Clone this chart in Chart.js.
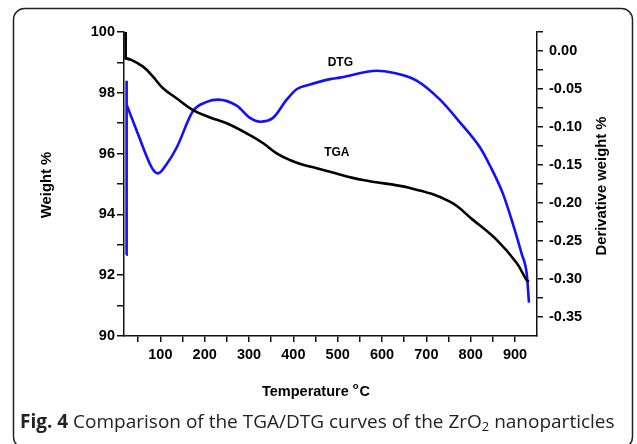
<!DOCTYPE html>
<html>
<head>
<meta charset="utf-8">
<script src="https://cdn.jsdelivr.net/npm/chart.js@4.4.1/dist/chart.umd.min.js"></script>
<style>
  body { margin: 0; background: #fff; }
  canvas { display: block; }
</style>
</head>
<body>
<canvas id="tgaChart" width="637" height="444"></canvas>
<script>
// TGA curve: temperature (°C) -> weight %
const tgaTemp = [21.5, 21.8, 31.6, 60.9, 83.4, 106, 136.3, 173.7, 212, 249.7, 302, 332, 362.4, 392, 421.7, 452.6, 482.6, 557, 663, 753, 805, 858.6, 903.7, 926, 931.4];
const tgaWeight = [100, 99.13, 99.10, 98.86, 98.53, 98.15, 97.82, 97.43, 97.19, 97.0, 96.61, 96.34, 96.01, 95.79, 95.63, 95.52, 95.40, 95.13, 94.87, 94.42, 93.82, 93.16, 92.40, 91.84, 91.79];

// DTG curve: temperature (°C) -> derivative weight %
const dtgTemp = [23.3, 23.6, 24.2, 46.7, 76.7, 86, 94.7, 114, 136.9, 173.7, 204.6, 230, 272.2, 302.2, 324.8, 354, 385, 408, 437.5, 482.6, 505, 588, 624.7, 678, 730.7, 775.8, 821, 843.5, 872.8, 895.4, 915, 926.3, 931.4];
const dtgValue = [-0.268, -0.039, -0.071, -0.105, -0.149, -0.158, -0.161, -0.149, -0.127, -0.079, -0.067, -0.064, -0.072, -0.088, -0.093, -0.088, -0.064, -0.050, -0.044, -0.037, -0.035, -0.026, -0.0286, -0.039, -0.064, -0.094, -0.127, -0.151, -0.188, -0.228, -0.267, -0.293, -0.331];

// tick values (major ones get labels)
const xTickValues = [50, 100, 150, 200, 250, 300, 350, 400, 450, 500, 550, 600, 650, 700, 750, 800, 850, 900];
const weightTickValues = [90, 91, 92, 93, 94, 95, 96, 97, 98, 99, 100];
const derivTickValues = [-0.35, -0.325, -0.3, -0.275, -0.25, -0.225, -0.2, -0.175, -0.15, -0.125, -0.1, -0.075, -0.05, -0.025, 0, 0.025];

const FAMILY = '"Liberation Sans", Arial, sans-serif';
const tickFont = { family: FAMILY, size: 14.5, weight: 'bold' };
const AXIS = '#111';

const toPoints = (xs, ys) => xs.map((t, i) => ({ x: t, y: ys[i] }));

// frame, axis titles, curve labels and the caption
const decorPlugin = {
    id: 'decor',
    beforeDraw(chart) {
        const c = chart.ctx;
        c.save();
        c.fillStyle = '#fff';
        c.fillRect(0, 0, chart.width, chart.height);
        // rounded box round the figure
        const x0 = 13.5, y0 = 8.5, x1 = 632.5, y1 = 448, r = 11;
        c.beginPath();
        c.moveTo(x0 + r, y0);
        c.lineTo(x1 - r, y0);
        c.arcTo(x1, y0, x1, y0 + r, r);
        c.lineTo(x1, y1 - r);
        c.arcTo(x1, y1, x1 - r, y1, r);
        c.lineTo(x0 + r, y1);
        c.arcTo(x0, y1, x0, y1 - r, r);
        c.lineTo(x0, y0 + r);
        c.arcTo(x0, y0, x0 + r, y0, r);
        c.strokeStyle = '#222';
        c.lineWidth = 1.5;
        c.stroke();
        c.restore();
    },
    afterDraw(chart) {
        const c = chart.ctx;
        const { x, y } = chart.scales;
        c.save();
        c.fillStyle = '#000';
        c.textBaseline = 'middle';
        c.textAlign = 'center';

        // curve labels
        c.font = 'bold 12px ' + FAMILY;
        c.fillText('DTG', x.getPixelForValue(506), y.getPixelForValue(98.98));
        c.fillText('TGA', x.getPixelForValue(498), y.getPixelForValue(96.02));

        // y titles
        c.font = 'bold 14.8px ' + FAMILY;
        c.save();
        c.translate(47, 185);
        c.rotate(-Math.PI / 2);
        c.fillText('Weight %', 0, 0);
        c.restore();
        c.save();
        c.translate(602, 186);
        c.rotate(-Math.PI / 2);
        c.fillText('Derivative weight %', 0, 0);
        c.restore();

        // x title with superscript degree
        c.textAlign = 'left';
        const big = 'bold 14.5px ' + FAMILY, small = 'bold 9.5px ' + FAMILY;
        c.font = big;
        const t1 = 'Temperature ', t3 = 'C';
        const w1 = c.measureText(t1).width;
        const w3 = c.measureText(t3).width;
        c.font = small;
        const w2 = c.measureText('o').width + 1;
        const tx = 316 - (w1 + w2 + w3) / 2;
        const ty = 392;
        c.font = big;
        c.fillText(t1, tx, ty);
        c.font = small;
        c.fillText('o', tx + w1, ty - 6);
        c.font = big;
        c.fillText(t3, tx + w1 + w2, ty);

        // caption
        c.textBaseline = 'alphabetic';
        const fam = '"Open Sans", "Noto Sans", sans-serif';
        const parts = [
            { t: 'Fig. 4', f: 'bold', sub: false },
            { t: ' Comparison of the TGA/DTG curves of the ZrO', f: 'normal', sub: false },
            { t: '2', f: 'normal', sub: true },
            { t: ' nanoparticles', f: 'normal', sub: false }
        ];
        const measure = (size) => parts.reduce((s, p) => {
            c.font = p.f + ' ' + (p.sub ? size * 0.68 : size) + 'px ' + fam;
            return s + c.measureText(p.t).width;
        }, 0);
        const size = 18 * 595 / measure(18);
        let cx = 20;
        parts.forEach(p => {
            c.font = p.f + ' ' + (p.sub ? size * 0.68 : size) + 'px ' + fam;
            c.fillStyle = '#222';
            c.fillText(p.t, cx, p.sub ? 431 : 428);
            cx += c.measureText(p.t).width;
        });
        c.restore();
    }
};

const ctx = document.getElementById('tgaChart').getContext('2d');

const lineStyle = (color, yAxisID) => ({
    yAxisID: yAxisID,
    borderColor: color,
    borderWidth: 2.6,
    pointRadius: 0
});

new Chart(ctx, {
    type: 'line',
    data: {
        datasets: [
            // vertical start of each record drawn straight, the rest smoothed
            { label: 'TGA start', data: toPoints(tgaTemp.slice(0, 3), tgaWeight.slice(0, 3)), tension: 0, ...lineStyle('#000', 'y') },
            { label: 'TGA', data: toPoints(tgaTemp.slice(1), tgaWeight.slice(1)), tension: 0.4, ...lineStyle('#000', 'y') },
            { label: 'DTG start', data: toPoints(dtgTemp.slice(0, 3), dtgValue.slice(0, 3)), tension: 0, ...lineStyle('#1010ff', 'y2') },
            { label: 'DTG', data: toPoints(dtgTemp.slice(2), dtgValue.slice(2)), cubicInterpolationMode: 'monotone', ...lineStyle('#1010ff', 'y2') }
        ]
    },
    options: {
        responsive: false,
        animation: false,
        layout: { padding: { top: 32, left: 0, right: 0, bottom: 0 } },
        plugins: {
            legend: { display: false },
            tooltip: { enabled: false }
        },
        scales: {
            x: {
                type: 'linear',
                min: 18,
                max: 949.5,
                afterBuildTicks: s => { s.ticks = xTickValues.map(v => ({ value: v })); },
                afterFit: s => { s.height = 108; },
                ticks: {
                    callback: v => (v % 100 === 0 ? String(v) : ''),
                    font: tickFont, color: '#000', padding: 4,
                    autoSkip: false, maxRotation: 0
                },
                grid: { drawOnChartArea: false, tickLength: 6, color: AXIS, lineWidth: 1.5 },
                border: { color: AXIS, width: 1.5 }
            },
            y: {
                position: 'left',
                min: 90,
                max: 100,
                afterBuildTicks: s => { s.ticks = weightTickValues.map(v => ({ value: v })); },
                afterFit: s => { s.width = 124; },
                ticks: {
                    callback: v => (v % 2 === 0 ? String(v) : ''),
                    font: tickFont, color: '#000', padding: 2, autoSkip: false
                },
                grid: { drawOnChartArea: false, tickLength: 7, color: AXIS, lineWidth: 1.5 },
                border: { color: AXIS, width: 1.5 }
            },
            y2: {
                position: 'right',
                min: -0.375,
                max: 0.025,
                afterBuildTicks: s => { s.ticks = derivTickValues.map(v => ({ value: v })); },
                afterFit: s => { s.width = 100; },
                ticks: {
                    callback: v => (Math.round(v * 1000) % 50 === 0 && v < 0.01 ? v.toFixed(2) : ''),
                    font: tickFont, color: '#000', padding: 6, autoSkip: false
                },
                grid: { drawOnChartArea: false, tickLength: 6, color: AXIS, lineWidth: 1.5 },
                border: { color: AXIS, width: 1.5 }
            }
        }
    },
    plugins: [decorPlugin]
});
</script>
</body>
</html>
